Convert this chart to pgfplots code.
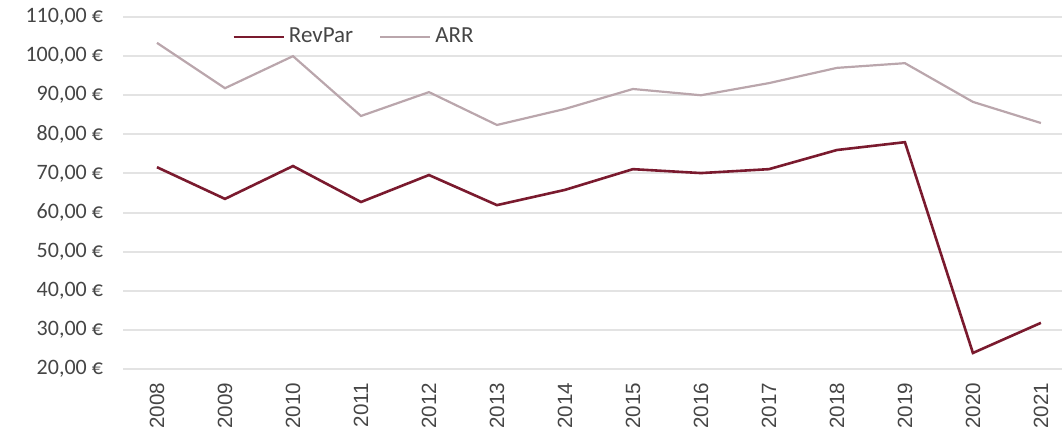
\documentclass[border=0pt]{standalone}
\usepackage{pgfplots}
\pgfplotsset{compat=1.18}
\usepackage{fontspec}
\setmainfont{Carlito}
\newfontfamily\arialfont{Liberation Sans}
\definecolor{revpar}{HTML}{7A1A2E}
\definecolor{arrc}{HTML}{BAA6AC}
\definecolor{gridc}{HTML}{E3E3E3}
\definecolor{tickc}{HTML}{454545}
\begin{document}
\begin{tikzpicture}
\begin{axis}[
  scale only axis,
  width=469.5pt, height=176pt,
  xmin=-0.5, xmax=13.31,
  ymin=20, ymax=110,
  ytick={20,30,...,110},
  xtick={0,...,13},
  xticklabels={2008,2009,2010,2011,2012,2013,2014,2015,2016,2017,2018,2019,2020,2021},
  axis line style={draw=none},
  major tick length=0pt,
  ymajorgrids,
  grid style={gridc, line width=1pt},
  /pgf/number format/assume math mode=true,
  yticklabel={\pgfmathprintnumber[fixed,fixed zerofill,precision=2,use comma]{\tick}~€},
  yticklabel style={font=\fontsize{11}{13}\selectfont, text=tickc, xshift=-6.5pt},
  xticklabel style={rotate=90, anchor=east, font=\arialfont\fontsize{10.3}{12}\selectfont, text=tickc, xshift=-3.5pt},
  legend columns=2,
  legend style={draw=none, fill=none, at={(0.116,0.943)}, anchor=west,
    font=\fontsize{11.5}{13}\selectfont, text=tickc,
    /tikz/every even column/.append style={column sep=11pt},
    inner sep=0pt},
  legend cell align=left,
  legend image code/.code={\draw[#1] (0pt,0pt) -- (25pt,0pt);},
  clip=false,
]
\addplot[revpar, line width=1.3pt] coordinates {
(0,71.6) (1,63.5) (2,71.9) (3,62.7) (4,69.6) (5,61.9) (6,65.8) (7,71.1) (8,70.1) (9,71.1) (10,76.0) (11,78.0) (12,24.1) (13,31.8)};
\addlegendentry{RevPar}
\addplot[arrc, line width=1.1pt] coordinates {
(0,103.4) (1,91.8) (2,100.0) (3,84.7) (4,90.8) (5,82.4) (6,86.5) (7,91.6) (8,90.0) (9,93.1) (10,97.0) (11,98.2) (12,88.3) (13,82.9)};
\addlegendentry{ARR}
\end{axis}
\pgfresetboundingbox
\path[use as bounding box] (-61.5pt,-33pt) rectangle (469.5pt,184.5pt);
\end{tikzpicture}
\end{document}
